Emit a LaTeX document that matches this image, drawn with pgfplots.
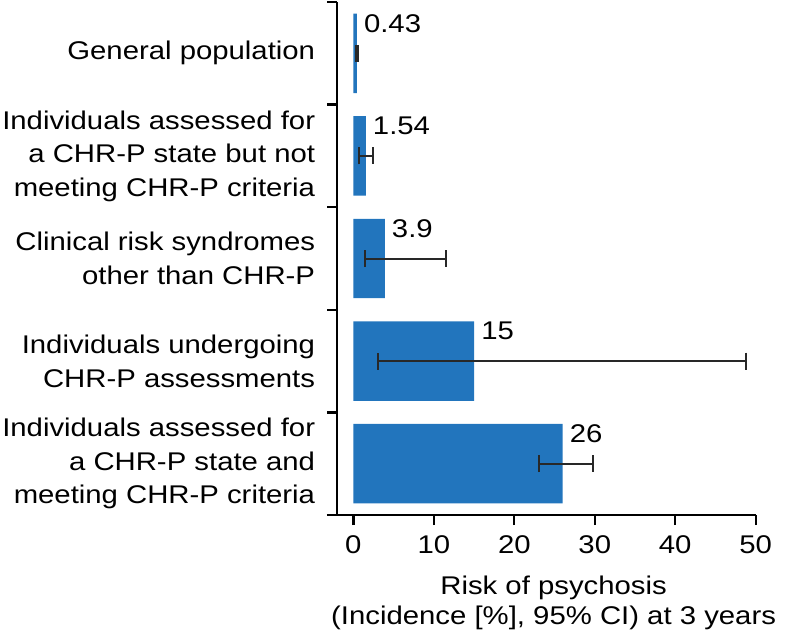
\documentclass[border=0pt]{standalone}
\usepackage{fontspec}
\setmainfont{Liberation Sans}[FakeStretch=1.145]
\usepackage{pgfplots}
\pgfplotsset{compat=1.18}
\usepackage{pgfplotstable}
\definecolor{barblue}{RGB}{34,117,189}
\definecolor{errgray}{RGB}{40,40,40}

\pgfplotstableread{
y x ep em lab
0 26 3.8 2.9 26
1 15 33.8 11.9 15
2 3.9 7.6 2.5 3.9
3 1.54 0.95 0.8 1.54
4 0.43 0.12 0.1 0.43
}\datatable

\begin{document}
\begin{tikzpicture}[font=\fontsize{25.6}{33.5}\selectfont]
\useasboundingbox (-337.3pt,-123pt) rectangle (449.7pt,515pt);
\begin{axis}[
  scale only axis, width=418.4pt, height=513pt,
  xmin=-2, xmax=50, ymin=-0.5, ymax=4.5,
  axis x line*=bottom, axis y line*=left,
  axis line style={line width=2.3pt, black, -},
  x axis line style={shorten <=-10.5pt},
  /pgf/number format/assume math mode=true,
  tick align=outside,
  major tick length=10pt,
  every tick/.style={line width=2.3pt, black},
  xtick={0,10,...,50},
  xticklabel style={anchor=north, inner sep=0pt, yshift=-10.7pt, font=\fontsize{25.6}{31}\selectfont},
  ytick={0,1,2,3,4},
  yticklabels={{Individuals assessed for\\a CHR-P state and\\meeting CHR-P criteria},
               {Individuals undergoing\\CHR-P assessments},
               {Clinical risk syndromes\\other than CHR-P},
               {Individuals assessed for\\a CHR-P state but not\\meeting CHR-P criteria},
               {General population}},
  yticklabel style={align=right, anchor=east, inner sep=0pt, xshift=-12pt, font=\fontsize{25.6}{33.5}\selectfont},
  ytick style={draw=none},
  extra y ticks={-0.5,0.5,1.5,2.5,3.5,4.5},
  extra y tick labels={},
  extra y tick style={ytick style={draw=black}},
  xlabel={Risk of psychosis\\(Incidence [\%], 95\% CI) at 3 years},
  xlabel style={align=center, inner sep=0pt, at={(axis description cs:0.517,0)}, anchor=north, yshift=-61pt, font=\fontsize{25.6}{29.5}\selectfont},
]
\addplot[xbar, bar width=0.774, fill=barblue, draw=none,
  point meta=explicit symbolic,
  nodes near coords,
  every node near coord/.append style={anchor=west, inner sep=0pt, xshift=7pt, yshift=30pt, black, font=\fontsize{25.6}{31}\selectfont},
  error bars/.cd, x dir=both, x explicit,
  error mark=|,
  error bar style={line width=2pt, errgray},
  error mark options={line width=2pt, errgray, mark size=8.5pt}]
  table[x=x, y=y, x error plus=ep, x error minus=em, meta=lab] {\datatable};
\end{axis}
\end{tikzpicture}
\end{document}
